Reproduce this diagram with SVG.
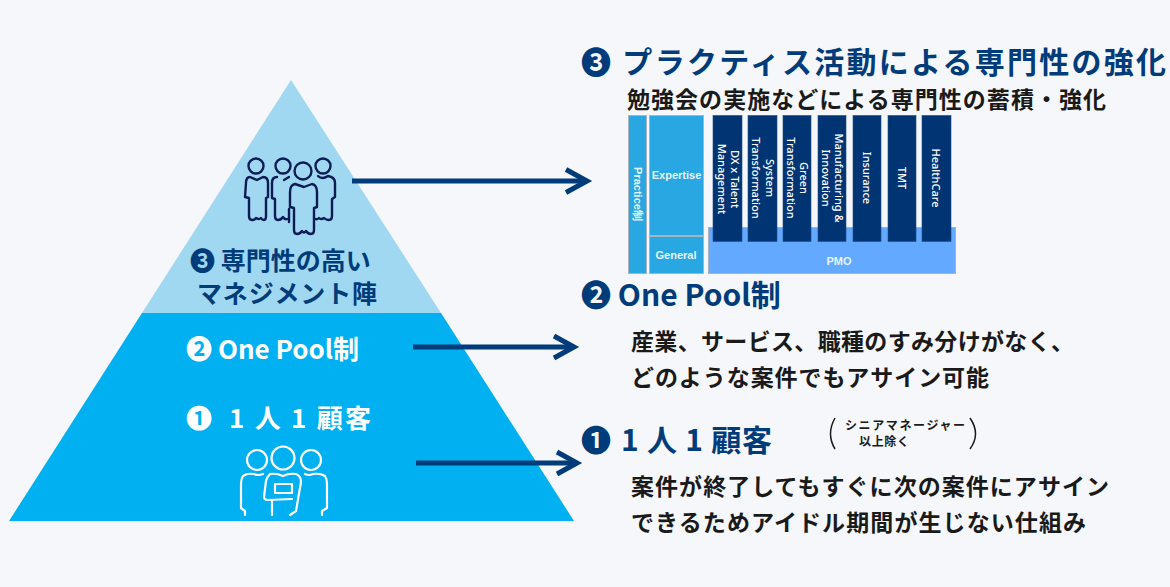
<svg xmlns="http://www.w3.org/2000/svg" width="1170" height="587" viewBox="0 0 1170 587">
<style>
text{font-family:"Noto Sans CJK JP","Noto Sans",sans-serif;font-weight:700}
.h{fill:#003b7a;font-size:30px}
.b{fill:#1a1a1a;font-size:23px}
.w{fill:#fff;font-size:27px}
.n{fill:#003b7a;font-size:25px}
.s{fill:#e8f4fb;font-family:"Liberation Sans",sans-serif;font-size:11px}
.c{fill:#fff;font-family:"Noto Sans",sans-serif;font-size:11px;font-weight:500;text-anchor:middle}
.col{fill:#003473;stroke:#1d4f85;stroke-width:.6}
.blue{fill:#29a7e3;stroke:#a8b4bd;stroke-width:1}
.arr{fill:none;stroke:#003b7a;stroke-width:5}
.pd{fill:none;stroke:#0b1c55;stroke-width:2.4;stroke-linejoin:round;stroke-linecap:round}
.pw{fill:none;stroke:#fff;stroke-width:2.2;stroke-linejoin:round;stroke-linecap:round}
</style>
<defs>
<path id="person" d="M-8 0Q-12 0-14 2Q-16 4-16 8L-16.500 24Q-16 26-13 26L-13 41Q-13 44-10 44Q-7 44-6 41Q-3 43 0 41Q1 44 4 44Q7 44 7 41L7 26Q10 26 10 24L10 8Q10 4 8 2Q6 0 2 0L-3 3Z"/>
</defs>
<rect width="1170" height="587" fill="#f5f7fa"/>
<g id="pyramid">
<polygon points="291,80 441,313 142,313" fill="#a0d8f1"/>
<polygon points="142,313 441,313 574,521 9,521" fill="#00b0f0"/>
</g>
<g id="icon-group-top">
<circle cx="256" cy="166" r="7.500" class="pd"/>
<circle cx="283" cy="166" r="7.500" class="pd"/>
<circle cx="323" cy="166" r="7.500" class="pd"/>
<circle cx="303" cy="171" r="8.500" class="pd"/>
<path class="pd" d="M250 177Q246 177 246 183L245 197L249 198L249 216Q249 220 252 220Q255 220 256 218Q259 220 261 218Q262 220 264 220Q266 220 266 216L266 198L268 197L268 183Q268 177 263 177L257 180Z"/>
<path class="pd" d="M277 177Q272 177 272 183L272 198L275 199L275 216Q275 220 278 220Q281 220 283 217Q285 220 287 219"/>
<path class="pd" d="M284 180L289 177"/>
<path class="pd" d="M289 209V222"/>
<path class="pd" d="M318 176Q322 180 328 176Q335 177 335 183L335 197L332 199L332 216Q332 220 329 220Q326 220 324 218Q321 220 319 218Q317 220 315 219"/>
<path class="pd" d="M295 184Q290 185 290 192L290 207L294 208L294 230Q294 234 297 234Q300 234 302 231Q304 234 306 231Q308 234 311 234Q314 234 314 230L314 208L317 207L317 192Q317 185 312 184L304 187Z"/>
</g>
<g id="label-3">
<text x="190" y="270" fill="#003b7a" font-size="25">❸ 専門性の高い</text>
<text x="197" y="303" fill="#003b7a" font-size="25" textLength="180">マネジメント陣</text>
</g>
<g id="label-2">
<text x="186" y="359" fill="#fff" font-size="26">❷ One Pool制</text>
</g>
<g id="label-1">
<text x="186" y="428" fill="#fff" font-size="26">❶</text>
<text x="229" y="428" fill="#fff" font-size="26" textLength="142">1 人 1 顧客</text>
</g>
<g id="icon-group-bottom">
<circle cx="257" cy="460" r="10" class="pw"/>
<circle cx="283" cy="458" r="11.500" class="pw"/>
<circle cx="311" cy="460" r="10" class="pw"/>
<path class="pw" d="M263 474Q258 476 254 474Q247 473 243 476Q241 479 241 484L241 508L245 511L245 515"/>
<path class="pw" d="M305 474Q309 476 313 474Q320 473 325 476Q327 479 327 484L327 508L322 511L322 515"/>
<path class="pw" d="M270 474Q276 473 283 476Q289 473 296 474Q301 476 301 482L296 511L290 515"/>
<path class="pw" d="M270 474Q267 477 266 481L264 497Q264 500 268 500L292 499"/>
<rect x="275" y="484" width="17" height="9" class="pw"/>
<path class="pw" d="M272 500V515"/>
</g>
<g id="connectors">
<path class="arr" d="M352 181H587"/><path class="arr" d="M566 169.500L587 181L566 192.500"/>
<path class="arr" d="M413 347H574"/><path class="arr" d="M554 336L574 347L554 358"/>
<path class="arr" d="M416 463H577"/><path class="arr" d="M557 452L577 463L557 474"/>
</g>
<g id="section-3">
<text class="h" x="581" y="73" textLength="585">❸ プラクティス活動による専門性の強化</text>
<text class="b" x="627" y="108" textLength="479">勉強会の実施などによる専門性の蓄積・強化</text>
</g>
<g id="practice-chart">
<rect class="blue" x="628.500" y="115.500" width="18" height="158"/>
<rect class="blue" x="649.500" y="115.500" width="54" height="120"/>
<rect class="blue" x="649.500" y="236.500" width="54" height="37"/>
<rect x="708.500" y="227.500" width="247" height="46" fill="#62a9ff" stroke="#a8b4bd"/>
<text class="s" text-anchor="middle" x="676.500" y="179">Expertise</text>
<text class="s" text-anchor="middle" x="676" y="259">General</text>
<text class="s" text-anchor="middle" x="839" y="265">PMO</text>
<text class="s" text-anchor="middle" transform="translate(633.500 194) rotate(90)">Practice制</text>
<rect class="col" x="713" y="115.500" width="29" height="126"/>
<rect class="col" x="748" y="115.500" width="29" height="126"/>
<rect class="col" x="783" y="115.500" width="28" height="126"/>
<rect class="col" x="818" y="115.500" width="28" height="126"/>
<rect class="col" x="853" y="115.500" width="28" height="126"/>
<rect class="col" x="888" y="115.500" width="28" height="126"/>
<rect class="col" x="922" y="115.500" width="29" height="126"/>
<text class="c" transform="translate(731 179) rotate(90)">DX x Talent</text>
<text class="c" transform="translate(718 179) rotate(90)">Management</text>
<text class="c" transform="translate(766 178) rotate(90)">System</text>
<text class="c" transform="translate(752 178) rotate(90)">Transformation</text>
<text class="c" transform="translate(800 178) rotate(90)">Green</text>
<text class="c" transform="translate(787 178) rotate(90)">Transformation</text>
<text class="c" transform="translate(835 178) rotate(90)">Manufacturing &amp;</text>
<text class="c" transform="translate(822 178) rotate(90)">Innovation</text>
<text class="c" transform="translate(863 178) rotate(90)">Insurance</text>
<text class="c" transform="translate(898 178) rotate(90)">TMT</text>
<text class="c" transform="translate(932 178) rotate(90)">HealthCare</text>
</g>
<g id="section-2">
<text class="h" x="581" y="306">❷ One Pool制</text>
<text class="b" x="631" y="350" textLength="443">産業、サービス、職種のすみ分けがなく、</text>
<text class="b" x="631" y="386" textLength="358">どのような案件でもアサイン可能</text>
</g>
<g id="section-1">
<text class="h" x="581" y="451">❶</text>
<text class="h" x="621" y="451" textLength="151">1 人 1 顧客</text>
<text x="845" y="430" fill="#1a1a1a" font-size="12" textLength="120">シニアマネージャー</text>
<text x="859" y="446" fill="#1a1a1a" font-size="12" textLength="50">以上除く</text>
<path d="M835 418Q826 434 835 449M970 418Q981 434 970 449" fill="none" stroke="#1a1a1a" stroke-width="1.500"/>
<text class="b" x="631" y="495" textLength="478">案件が終了してもすぐに次の案件にアサイン</text>
<text class="b" x="631" y="531" textLength="455">できるためアイドル期間が生じない仕組み</text>
</g>
</svg>
